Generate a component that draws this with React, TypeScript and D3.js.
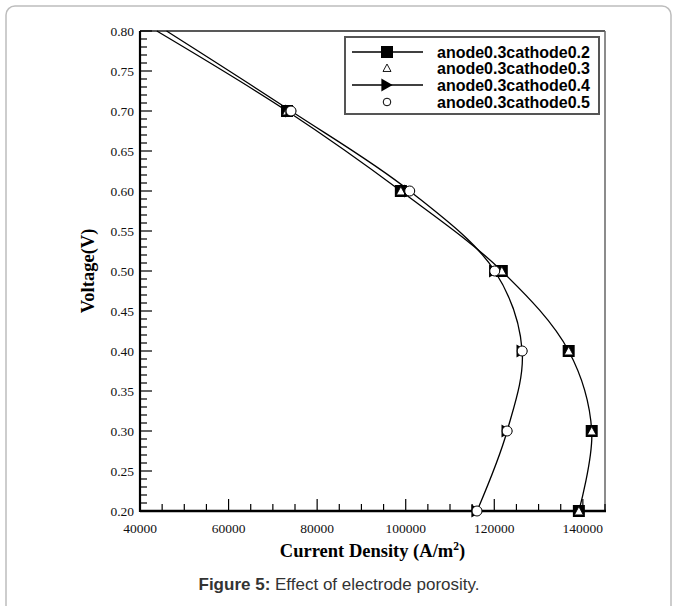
import React from "react";
import * as d3 from "d3";

// voltage levels (V), top to bottom; 0.8 is where the lines leave the frame
const voltage = [0.8, 0.7, 0.6, 0.5, 0.4, 0.3, 0.2];

// current density (A/m2) for each porosity case
const cathode02 = [43800, 73200, 98900, 121700, 136800, 142000, 139100];
const cathode03 = [43800, 73200, 98900, 121700, 136800, 142000, 139100];
const cathode04 = [46000, 74100, 100900, 120100, 126300, 122900, 116100];
const cathode05 = [46000, 74100, 100900, 120100, 126300, 122900, 116100];

const seriesNames = [
  "anode0.3cathode0.2",
  "anode0.3cathode0.3",
  "anode0.3cathode0.4",
  "anode0.3cathode0.5",
];

const xTicks = [40000, 60000, 80000, 100000, 120000, 140000];
const yTicks = [0.2, 0.25, 0.3, 0.35, 0.4, 0.45, 0.5, 0.55, 0.6, 0.65, 0.7, 0.75, 0.8];

const W = 678;
const H = 606;
const plot = { left: 140, right: 605, top: 31, bottom: 511 };

const x = d3.scaleLinear().domain([40000, 145000]).range([plot.left, plot.right]);
const y = d3.scaleLinear().domain([0.2, 0.8]).range([plot.bottom, plot.top]);

const serif = "'Liberation Serif', 'Times New Roman', serif";
const sans = "'Liberation Sans', Arial, sans-serif";

function toPoints(values: number[]) {
  return values.map((v, i) => [x(v), y(voltage[i])] as [number, number]);
}

const line = d3.line().curve(d3.curveCatmullRom.alpha(0.5));

function Square({ cx, cy, s = 12 }: { cx: number; cy: number; s?: number }) {
  return <rect x={cx - s / 2} y={cy - s / 2} width={s} height={s} fill="#000" />;
}

function TriUp({ cx, cy, s = 9 }: { cx: number; cy: number; s?: number }) {
  const h = s * 0.87;
  const pts = `${cx},${cy - h / 2 - 0.5} ${cx - s / 2},${cy + h / 2} ${cx + s / 2},${cy + h / 2}`;
  return <polygon points={pts} fill="#fff" stroke="#000" strokeWidth={0.9} />;
}

function TriRight({ cx, cy, s = 13 }: { cx: number; cy: number; s?: number }) {
  const w = s * 0.87;
  const pts = `${cx + w / 2},${cy} ${cx - w / 2},${cy - s / 2} ${cx - w / 2},${cy + s / 2}`;
  return <polygon points={pts} fill="#000" />;
}

function Circle({ cx, cy, r = 5 }: { cx: number; cy: number; r?: number }) {
  return <circle cx={cx} cy={cy} r={r} fill="#fff" stroke="#000" strokeWidth={1} />;
}

export default function App() {
  const xMinor = d3.range(40000, 145001, 5000);
  const yMinor = d3.range(20, 81, 1).map((d) => d / 100);

  const p1 = toPoints(cathode02);
  const p2 = toPoints(cathode03);
  const p3 = toPoints(cathode04);
  const p4 = toPoints(cathode05);

  // symbols are only drawn at points inside the frame
  const inside = (i: number) => voltage[i] < 0.8;

  const legendRows = [52, 68, 85, 102];

  return (
    <svg
      width={W}
      height={H}
      style={{ position: "absolute", left: 0, top: 0, background: "#fff" }}
    >
      <rect x={6} y={6} width={665} height={620} rx={9} fill="#fff" stroke="#bdbdbd" strokeWidth={1.5} />

      {/* frame top / right */}
      <line x1={plot.left} x2={plot.right} y1={plot.top} y2={plot.top} stroke="#222" strokeWidth={1.3} />
      <line x1={plot.right} x2={plot.right} y1={plot.top} y2={plot.bottom} stroke="#666" strokeWidth={1.5} />

      {/* y axis ticks */}
      {yMinor.map((v) => {
        const major = Math.round(v * 100) % 5 === 0;
        return (
          <line key={"ym" + v} x1={plot.left} x2={plot.left + (major ? 12 : 7)} y1={y(v)} y2={y(v)} stroke="#000" strokeWidth={1.2} />
        );
      })}
      {yTicks.map((v) => (
        <text key={"yt" + v} x={plot.left - 6} y={y(v)} dy="0.35em" textAnchor="end" fontFamily={serif} fontSize={13.5} fill="#111">
          {v.toFixed(2)}
        </text>
      ))}

      {/* x axis ticks */}
      {xMinor.map((v) => {
        const major = v % 20000 === 0;
        return (
          <line key={"xm" + v} x1={x(v)} x2={x(v)} y1={plot.bottom} y2={plot.bottom - (major ? 12 : 7)} stroke="#000" strokeWidth={1.2} />
        );
      })}
      {xTicks.map((v) => (
        <text key={"xt" + v} x={x(v)} y={plot.bottom + 17} dy="0.35em" textAnchor="middle" fontFamily={serif} fontSize={13.5} fill="#111">
          {v}
        </text>
      ))}

      <line x1={plot.left} x2={plot.left} y1={plot.top} y2={plot.bottom + 1} stroke="#000" strokeWidth={2.2} />
      <line x1={plot.left} x2={plot.right + 1} y1={plot.bottom} y2={plot.bottom} stroke="#000" strokeWidth={2.6} />

      {/* curves */}
      <path d={line(p1) || ""} fill="none" stroke="#000" strokeWidth={1.3} />
      <path d={line(p3) || ""} fill="none" stroke="#000" strokeWidth={1.3} />

      {p1.map((p, i) => inside(i) && <Square key={"s" + i} cx={p[0]} cy={p[1]} />)}
      {p2.map((p, i) => inside(i) && <TriUp key={"t" + i} cx={p[0]} cy={p[1]} />)}
      {p3.map((p, i) => inside(i) && <TriRight key={"r" + i} cx={p[0]} cy={p[1]} />)}
      {p4.map((p, i) => inside(i) && <Circle key={"c" + i} cx={p[0]} cy={p[1]} />)}

      {/* legend */}
      <rect x={345} y={37} width={254} height={77} fill="#fff" stroke="#555" strokeWidth={2} />
      <line x1={352} x2={423} y1={legendRows[0]} y2={legendRows[0]} stroke="#000" strokeWidth={1.3} />
      <Square cx={387} cy={legendRows[0]} />
      <TriUp cx={387} cy={legendRows[1]} s={8} />
      <line x1={352} x2={423} y1={legendRows[2]} y2={legendRows[2]} stroke="#000" strokeWidth={1.3} />
      <TriRight cx={387} cy={legendRows[2]} />
      <Circle cx={387} cy={legendRows[3]} r={3.8} />
      {seriesNames.map((name, i) => (
        <text key={name} x={437} y={legendRows[i]} dy="0.36em" fontFamily={sans} fontWeight="bold" fontSize={16} fill="#000">
          {name}
        </text>
      ))}

      {/* axis titles */}
      <text
        transform={`translate(88, ${(plot.top + plot.bottom) / 2}) rotate(-90)`}
        textAnchor="middle"
        dy="0.35em"
        fontFamily={serif}
        fontWeight="bold"
        fontSize={18.5}
      >
        Voltage(V)
      </text>
      <text x={(plot.left + plot.right) / 2} y={557} textAnchor="middle" fontFamily={serif} fontWeight="bold" fontSize={18.5}>
        Current Density (A/m
        <tspan dy={-7} fontSize={11.5}>2</tspan>
        <tspan dy={7}>)</tspan>
      </text>

      {/* caption */}
      <text x={339} y={590} textAnchor="middle" fontFamily={sans} fontSize={17} fill="#333">
        <tspan fontWeight="bold">Figure 5:</tspan> Effect of electrode porosity.
      </text>
    </svg>
  );
}
